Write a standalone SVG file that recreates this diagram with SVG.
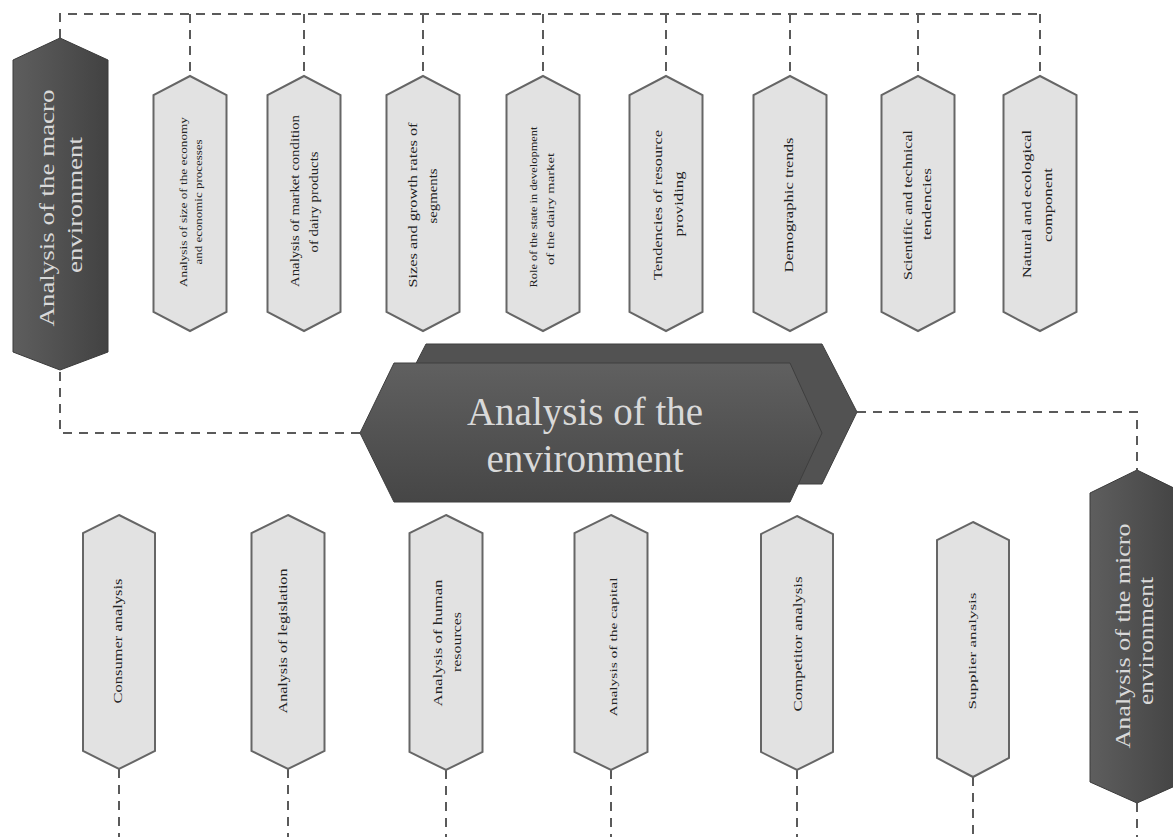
<svg xmlns="http://www.w3.org/2000/svg" width="1173" height="837" viewBox="0 0 1173 837">
<defs>
<linearGradient id="gside" x1="0" y1="0" x2="1" y2="0">
<stop offset="0" stop-color="#5e5e5e"/>
<stop offset="1" stop-color="#424242"/>
</linearGradient>
<linearGradient id="gcen" x1="0" y1="0" x2="0" y2="1">
<stop offset="0" stop-color="#606060"/>
<stop offset="1" stop-color="#464646"/>
</linearGradient>
<style>
.lt{fill:#e2e2e2;stroke:#666;stroke-width:2}
.dk{fill:url(#gside);stroke:#3a3a3a;stroke-width:1}
.cn{fill:url(#gcen);stroke:#3e3e3e;stroke-width:1}
.cb{fill:#525252;stroke:#3e3e3e;stroke-width:1}
.dash{fill:none;stroke:#5a5a5a;stroke-width:2;stroke-dasharray:9 7}
.s{font-family:"Liberation Serif",serif;fill:#222;text-anchor:middle;dominant-baseline:central}
.w{font-family:"Liberation Serif",serif;fill:#d9d9d9;text-anchor:middle;dominant-baseline:central}
</style>
</defs>
<rect width="1173" height="837" fill="#ffffff"/>

<g id="connectors">
<polyline class="dash" points="60,38 60,14 1040,14"/>
<line class="dash" x1="190" y1="14" x2="190" y2="76"/>
<line class="dash" x1="304" y1="14" x2="304" y2="76"/>
<line class="dash" x1="423" y1="14" x2="423" y2="76"/>
<line class="dash" x1="543" y1="14" x2="543" y2="76"/>
<line class="dash" x1="666" y1="14" x2="666" y2="76"/>
<line class="dash" x1="790" y1="14" x2="790" y2="76"/>
<line class="dash" x1="918" y1="14" x2="918" y2="76"/>
<line class="dash" x1="1040" y1="14" x2="1040" y2="76"/>
<polyline class="dash" points="60,372 60,433 362,433"/>
<polyline class="dash" points="857,412 1137,412 1137,470"/>
<line class="dash" x1="119" y1="769" x2="119" y2="837"/>
<line class="dash" x1="288" y1="769" x2="288" y2="837"/>
<line class="dash" x1="446" y1="770" x2="446" y2="837"/>
<line class="dash" x1="611" y1="770" x2="611" y2="837"/>
<line class="dash" x1="797" y1="770" x2="797" y2="837"/>
<line class="dash" x1="973" y1="777" x2="973" y2="837"/>
<line class="dash" x1="1137" y1="803" x2="1137" y2="837"/>
</g>

<g id="macro">
<polygon class="dk" points="60,38 108,60 108,352 60,370 13,352 13,60"/>
<text class="w" font-size="22" textLength="237" lengthAdjust="spacingAndGlyphs" transform="translate(46,208) rotate(-90)">Analysis of the macro</text>
<text class="w" font-size="22" textLength="136" lengthAdjust="spacingAndGlyphs" transform="translate(74,205) rotate(-90)">environment</text>
</g>

<g id="t1">
<polygon class="lt" points="190,76 226.5,95 226.5,312 190,331 153.5,312 153.5,95"/>
<text class="s" font-size="10" textLength="170" lengthAdjust="spacingAndGlyphs" transform="translate(183,202) rotate(-90)">Analysis of size of the economy</text>
<text class="s" font-size="10" textLength="125" lengthAdjust="spacingAndGlyphs" transform="translate(198,202) rotate(-90)">and economic processes</text>
</g>
<g id="t2">
<polygon class="lt" points="304,76 340.5,95 340.5,312 304,331 267.5,312 267.5,95"/>
<text class="s" font-size="12" textLength="172" lengthAdjust="spacingAndGlyphs" transform="translate(295,201) rotate(-90)">Analysis of market condition</text>
<text class="s" font-size="12" textLength="101" lengthAdjust="spacingAndGlyphs" transform="translate(314,202) rotate(-90)">of dairy products</text>
</g>
<g id="t3">
<polygon class="lt" points="423,76 459.5,95 459.5,312 423,331 386.5,312 386.5,95"/>
<text class="s" font-size="13" textLength="165" lengthAdjust="spacingAndGlyphs" transform="translate(412,205) rotate(-90)">Sizes and growth rates of</text>
<text class="s" font-size="13" textLength="55" lengthAdjust="spacingAndGlyphs" transform="translate(432,196) rotate(-90)">segments</text>
</g>
<g id="t4">
<polygon class="lt" points="543,76 579.5,95 579.5,312 543,331 506.5,312 506.5,95"/>
<text class="s" font-size="10" textLength="161" lengthAdjust="spacingAndGlyphs" transform="translate(533,207) rotate(-90)">Role of the state in development</text>
<text class="s" font-size="10" textLength="112" lengthAdjust="spacingAndGlyphs" transform="translate(550,209) rotate(-90)">of the dairy market</text>
</g>
<g id="t5">
<polygon class="lt" points="666,76 702.5,95 702.5,312 666,331 629.5,312 629.5,95"/>
<text class="s" font-size="13" textLength="150" lengthAdjust="spacingAndGlyphs" transform="translate(657,205) rotate(-90)">Tendencies of resource</text>
<text class="s" font-size="13" textLength="65" lengthAdjust="spacingAndGlyphs" transform="translate(678,204) rotate(-90)">providing</text>
</g>
<g id="t6">
<polygon class="lt" points="790,76 826.5,95 826.5,312 790,331 753.5,312 753.5,95"/>
<text class="s" font-size="12" textLength="135" lengthAdjust="spacingAndGlyphs" transform="translate(789,205) rotate(-90)">Demographic trends</text>
</g>
<g id="t7">
<polygon class="lt" points="918,76 954.5,95 954.5,312 918,331 881.5,312 881.5,95"/>
<text class="s" font-size="12" textLength="150" lengthAdjust="spacingAndGlyphs" transform="translate(908,205) rotate(-90)">Scientific and technical</text>
<text class="s" font-size="12" textLength="72" lengthAdjust="spacingAndGlyphs" transform="translate(927,204) rotate(-90)">tendencies</text>
</g>
<g id="t8">
<polygon class="lt" points="1040,76 1076.5,95 1076.5,312 1040,331 1003.5,312 1003.5,95"/>
<text class="s" font-size="12" textLength="148" lengthAdjust="spacingAndGlyphs" transform="translate(1027,204) rotate(-90)">Natural and ecological</text>
<text class="s" font-size="12" textLength="74" lengthAdjust="spacingAndGlyphs" transform="translate(1048,205) rotate(-90)">component</text>
</g>

<g id="center">
<polygon class="cb" points="426,344 822,344 857,412 822,484 426,484 391,412"/>
<polygon class="cn" points="394,363 790,363 822,433 790,502 394,502 360,433"/>
<text class="w" font-size="39" x="585" y="411" fill="#e2e2e2">Analysis of the</text>
<text class="w" font-size="39" x="585" y="458" fill="#e2e2e2">environment</text>
</g>

<g id="b1">
<polygon class="lt" points="119,515 155,533 155,751 119,769 83,751 83,533"/>
<text class="s" font-size="12" textLength="125" lengthAdjust="spacingAndGlyphs" transform="translate(118,641) rotate(-90)">Consumer analysis</text>
</g>
<g id="b2">
<polygon class="lt" points="288,515 324.5,533 324.5,751 288,769 251.5,751 251.5,533"/>
<text class="s" font-size="12" textLength="145" lengthAdjust="spacingAndGlyphs" transform="translate(283,641) rotate(-90)">Analysis of legislation</text>
</g>
<g id="b3">
<polygon class="lt" points="446,515 482.5,533 482.5,752 446,770 409.5,752 409.5,533"/>
<text class="s" font-size="12" textLength="127" lengthAdjust="spacingAndGlyphs" transform="translate(438,643) rotate(-90)">Analysis of human</text>
<text class="s" font-size="12" textLength="60" lengthAdjust="spacingAndGlyphs" transform="translate(457,642) rotate(-90)">resources</text>
</g>
<g id="b4">
<polygon class="lt" points="611,515 647.5,533 647.5,752 611,770 574.5,752 574.5,533"/>
<text class="s" font-size="11" textLength="139" lengthAdjust="spacingAndGlyphs" transform="translate(613,647) rotate(-90)">Analysis of the capital</text>
</g>
<g id="b5">
<polygon class="lt" points="797,516 833,534 833,752 797,770 761,752 761,534"/>
<text class="s" font-size="12" textLength="135" lengthAdjust="spacingAndGlyphs" transform="translate(798,644) rotate(-90)">Competitor analysis</text>
</g>
<g id="b6">
<polygon class="lt" points="973,522 1009,540 1009,758 973,777 937,758 937,540"/>
<text class="s" font-size="11" textLength="117" lengthAdjust="spacingAndGlyphs" transform="translate(972,651) rotate(-90)">Supplier analysis</text>
</g>

<g id="micro">
<polygon class="dk" points="1137,470 1184,493 1184,782 1137,803 1090,782 1090,493"/>
<text class="w" font-size="22" textLength="225" lengthAdjust="spacingAndGlyphs" transform="translate(1122,636) rotate(-90)">Analysis of the micro</text>
<text class="w" font-size="22" textLength="128" lengthAdjust="spacingAndGlyphs" transform="translate(1145,641) rotate(-90)">environment</text>
</g>
</svg>
